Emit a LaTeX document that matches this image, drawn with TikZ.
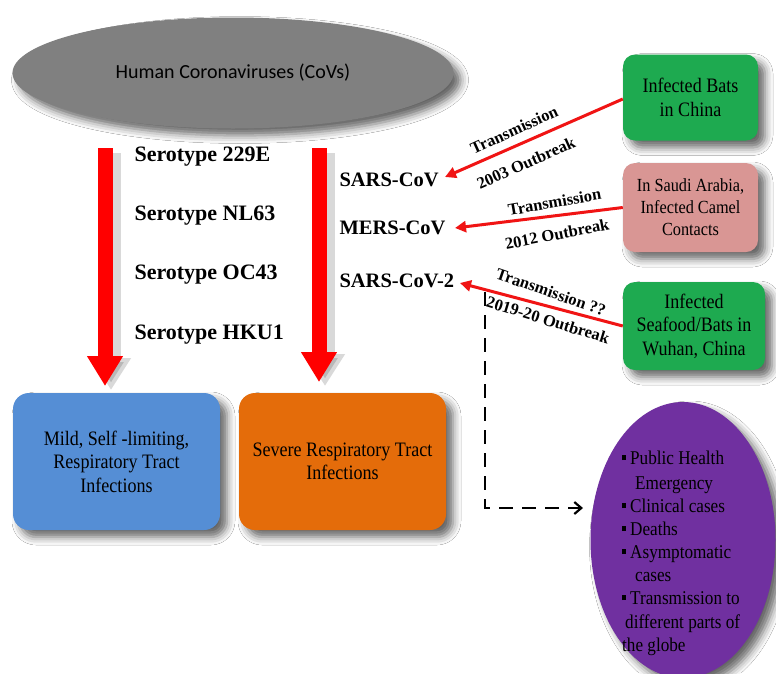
\documentclass[tikz,border=0pt]{standalone}
\usepackage{fontspec}
\setmainfont{Liberation Serif}
\newfontfamily\carlito{Carlito}
\newfontfamily\cond[FakeStretch=0.88]{Liberation Serif}
\usetikzlibrary{arrows.meta,shapes.geometric,shadows.blur}
\definecolor{cgray}{RGB}{128,128,128}
\definecolor{cgreen}{RGB}{30,170,80}
\definecolor{cpink}{RGB}{217,150,148}
\definecolor{cblue}{RGB}{85,142,213}
\definecolor{corange}{RGB}{228,108,10}
\definecolor{cpurple}{RGB}{112,48,160}
\definecolor{cred}{RGB}{240,20,20}
\newcommand{\sqb}{\rule[4pt]{4pt}{5.5pt}}
\begin{document}
\begin{tikzpicture}[x=1pt,y=-1pt,
  shad/.style={blur shadow={shadow xshift=7pt,shadow yshift=-7pt,shadow blur radius=8pt,shadow opacity=60}},
  box/.style={rounded corners=16pt,inner sep=2pt,align=center,shad,font=\cond\fontsize{20.5}{23.5}\selectfont},
  sero/.style={anchor=west,font=\bfseries\fontsize{22}{24}\selectfont},
  cov/.style={anchor=west,font=\bfseries\fontsize{20.5}{24}\selectfont},
  lab/.style={font=\bfseries\fontsize{16.5}{18}\selectfont,inner sep=0pt},
  bigarrow/.style={draw=red,line width=15pt,-{Triangle[width=34pt,length=30pt]}},
  bigshadow/.style={draw=black,opacity=0.15,line width=19pt,-{Triangle[width=38pt,length=32pt]}},
  thinarrow/.style={draw=cred,line width=3pt,-{Triangle[width=11pt,length=11pt]}},
  pitem/.style={anchor=base west,inner sep=0pt,font=\cond\fontsize{19.5}{22}\selectfont}
]
\useasboundingbox (0,0) rectangle (776,673);
\clip (0,0) rectangle (776,673);
\fill[white] (0,0) rectangle (776,673);

% top ellipse
\node[ellipse,fill=cgray,minimum width=441pt,minimum height=111pt,inner sep=0pt,shad] (hc) at (233,73)
  {\carlito\fontsize{20}{24}\selectfont Human Coronaviruses (CoVs)};

% big arrows
\coordinate (a1s) at (105,148);
\coordinate (a1e) at (105,386);
\coordinate (a2s) at (319,148);
\coordinate (a2e) at (319,382);
\coordinate (a1ss) at (111,153);
\coordinate (a1es) at (111,390);
\coordinate (a2ss) at (325,153);
\coordinate (a2es) at (325,386);
\draw[bigshadow] (a1ss) -- (a1es);
\draw[bigshadow] (a2ss) -- (a2es);
\draw[bigarrow] (a1s) -- (a1e);
\draw[bigarrow] (a2s) -- (a2e);

% serotypes
\node[sero] (s1) at (131,157) {Serotype 229E};
\node[sero] (s2) at (131,216) {Serotype NL63};
\node[sero] (s3) at (131,275) {Serotype OC43};
\node[sero] (s4) at (131,335) {Serotype HKU1};

% CoVs
\node[cov] (sars) at (336,180) {SARS-CoV};
\node[cov] (mers) at (336,228) {MERS-CoV};
\node[cov] (sars2) at (336,281) {SARS-CoV-2};

% bottom boxes
\node[box,fill=cblue,minimum width=207pt,minimum height=137pt] (mild) at (116.5,461.5)
  {Mild, Self -limiting,\\Respiratory Tract\\Infections};
\node[box,fill=corange,minimum width=207pt,minimum height=137pt] (severe) at (342.5,461.5)
  {Severe Respiratory Tract\\Infections};

% source boxes
\node[box,rounded corners=12pt,fill=cgreen,minimum width=135pt,minimum height=86pt] (bats) at (690.5,97.5)
  {Infected Bats\\in China};
\node[box,rounded corners=12pt,fill=cpink,minimum width=135pt,minimum height=89pt,font=\cond\fontsize{18.5}{22}\selectfont] (camel) at (690.5,207.5)
  {In Saudi Arabia,\\Infected Camel\\Contacts};
\node[box,rounded corners=12pt,fill=cgreen,minimum width=142pt,minimum height=88pt] (wuhan) at (694,326)
  {Infected\\Seafood/Bats in\\Wuhan, China};

% thin arrows
\coordinate (t1) at (445,177);
\coordinate (t2) at (455,228);
\coordinate (t3) at (460,283);
\draw[thinarrow] (bats.west |- 0,99) -- (t1);
\draw[thinarrow] (camel.west) -- (t2);
\draw[thinarrow] (wuhan.west) -- (t3);

\node[lab,rotate=24.5] (l1a) at (514,130) {Transmission};
\node[lab,rotate=24] (l1b) at (526,163) {2003 Outbreak};
\node[lab,rotate=10] (l2a) at (554.5,202) {Transmission};
\node[lab,rotate=11] (l2b) at (557,234) {2012 Outbreak};
\node[lab,rotate=-19] (l3a) at (551,292) {Transmission ??};
\node[lab,rotate=-17] (l3b) at (548,320) {2019-20 Outbreak};

% purple ellipse
\node[ellipse,fill=cpurple,minimum width=185pt,minimum height=276pt,inner sep=0pt,shad] (out) at (683,540) {};

% dashed connector
\coordinate (d1) at (485,292);
\coordinate (d2) at (485,508);
\coordinate (d3) at (583,508);
\draw[line width=2.2pt,dash pattern=on 14pt off 9pt,-{Straight Barb[width=12pt,length=7pt]}] (d1) -- (d2) -- (d3);

% purple list
\node[pitem] (p1) at (622,464) {\sqb\hspace{4pt}Public Health};
\node[pitem] (p2) at (635,489) {Emergency};
\node[pitem] (p3) at (622,512) {\sqb\hspace{4pt}Clinical cases};
\node[pitem] (p4) at (622,535) {\sqb\hspace{4pt}Deaths};
\node[pitem] (p5) at (622,558) {\sqb\hspace{4pt}Asymptomatic};
\node[pitem] (p6) at (635,581) {cases};
\node[pitem] (p7) at (622,604) {\sqb\hspace{4pt}Transmission to};
\node[pitem] (p8) at (625,628) {different parts of};
\node[pitem] (p9) at (622,651) {the globe};
\end{tikzpicture}
\end{document}
